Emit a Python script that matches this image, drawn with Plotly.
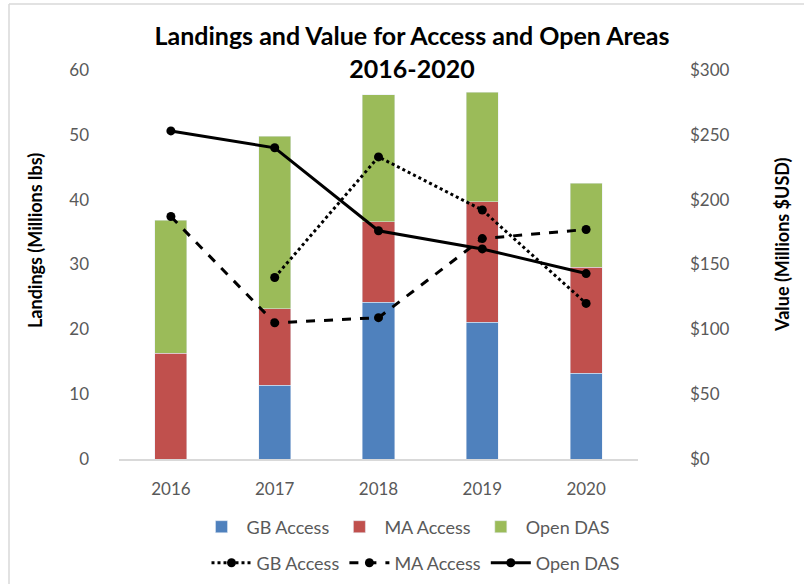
import plotly.graph_objects as go

years = ["2016", "2017", "2018", "2019", "2020"]
# Landings (Millions lbs) - stacked bars
gb_land = [0, 11.4, 24.2, 21.1, 13.2]
ma_land = [16.3, 11.8, 12.4, 18.6, 16.4]
open_land = [20.5, 26.6, 19.6, 16.9, 12.9]
# Value (Millions $USD) - lines
gb_val = [None, 140, 233, 192, 120]
ma_val = [187, 105, 109, 170, 177]
open_val = [253, 240, 176, 162, 143]

left_ticks = [0, 10, 20, 30, 40, 50, 60]
right_ticks = [0, 50, 100, 150, 200, 250, 300]
right_labels = ["$0", "$50", "$100", "$150", "$200", "$250", "$300"]

FONT = "Lato"
GRAY = "#595959"

fig = go.Figure()
fig.add_trace(go.Bar(x=years, y=gb_land, name="GB Access", marker_color="#4F81BD", legend="legend"))
fig.add_trace(go.Bar(x=years, y=ma_land, name="MA Access", marker_color="#C0504D", legend="legend"))
fig.add_trace(go.Bar(x=years, y=open_land, name="Open DAS", marker_color="#9BBB59", legend="legend"))

for vals, name, dash in [(gb_val, "GB Access", "dot"), (ma_val, "MA Access", "dash"), (open_val, "Open DAS", "solid")]:
    fig.add_trace(go.Scatter(x=years, y=vals, name=name, yaxis="y2", mode="lines+markers",
                             line=dict(color="black", width=3, dash=dash),
                             marker=dict(color="black", size=9), legend="legend2"))

W, H = 804, 584
L, R, T, B = 119, 166, 70, 125
pw, ph = W - L - R, H - T - B

def px(x):
    return (x - L) / pw

def py(y):
    return (H - B - y) / ph

fig.update_layout(
    width=W, height=H,
    margin=dict(l=L, r=R, t=T, b=B, autoexpand=False),
    barmode="stack", bargap=0.69,
    plot_bgcolor="white", paper_bgcolor="white",
    font=dict(family=FONT, color=GRAY, size=17),
    title=dict(text="<b>Landings and Value for Access and Open Areas<br>2016-2020</b>",
               x=px(412), xanchor="center", xref="paper", y=1 - 45 / H, yanchor="top",
               font=dict(family=FONT, size=25, color="black")),
    xaxis=dict(showline=True, linecolor="#D9D9D9", linewidth=1.5, ticks="", showgrid=False,
               ticklabelstandoff=14, tickfont=dict(size=17, color=GRAY)),
    yaxis=dict(range=[0, 60], tickvals=left_ticks, showgrid=False, zeroline=False,
               ticklabelstandoff=29, tickfont=dict(size=17, color=GRAY)),
    yaxis2=dict(range=[0, 300], tickvals=right_ticks, ticktext=right_labels, overlaying="y",
                side="right", showgrid=False, zeroline=False, ticklabelstandoff=51,
                tickfont=dict(size=17, color=GRAY)),
    legend=dict(orientation="h", x=px(406), xanchor="center", y=py(527), yanchor="middle",
                font=dict(size=18, color=GRAY), traceorder="normal", itemwidth=40),
    legend2=dict(orientation="h", x=px(416), xanchor="center", y=py(563), yanchor="middle",
                 font=dict(size=18, color=GRAY), traceorder="normal", itemwidth=40),
    annotations=[
        dict(text="<b>Landings (Millions lbs)</b>", x=px(35), y=py(241), xref="paper", yref="paper",
             xanchor="center", yanchor="middle",
             textangle=-90, showarrow=False, font=dict(family=FONT, size=18, color="black")),
        dict(text="<b>Value (Millions $USD)</b>", x=px(782), y=py(245), xref="paper", yref="paper",
             xanchor="center", yanchor="middle",
             textangle=-90, showarrow=False, font=dict(family=FONT, size=18, color="black")),
    ],
    shapes=[
        dict(type="line", xref="paper", yref="paper", x0=px(9), x1=px(804), y0=py(4), y1=py(4),
             line=dict(color="#D9D9D9", width=1.5)),
        dict(type="line", xref="paper", yref="paper", x0=px(9), x1=px(9), y0=py(4), y1=py(584),
             line=dict(color="#D9D9D9", width=1.5)),
    ],
)

fig.write_html("out.html", config={"displayModeBar": False},
               post_script="document.body.style.margin='0';")
